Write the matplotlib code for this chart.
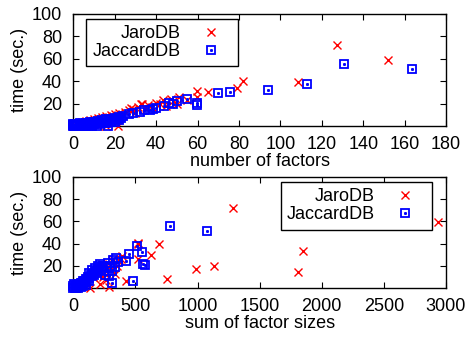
import matplotlib
matplotlib.use("Agg")
import matplotlib.pyplot as plt
from matplotlib.legend_handler import HandlerTuple

plt.rcParams['font.family'] = ['Liberation Sans', 'DejaVu Sans']
plt.rcParams['font.size'] = 13

# top panel: number of factors vs time
jaro_nf_x = [127.3, 151.8, 108.6, 81.8, 79, 65, 59.6, 59.6, 51, 47, 43.5, 40, 36, 33, 31,
             29, 27, 25, 22, 20, 18, 16, 14, 12, 10, 8, 6, 4, 2, 1, 3, 21.7, 16, 12,
             45, 48, 50, 38, 35, 42, 30, 55, 28, 24, 19, 13, 9, 5, 32.5]
jaro_nf_y = [72.5, 59.2, 39.6, 40.2, 33.6, 30.3, 31.2, 26, 25.7, 24.5, 23.6, 21, 19, 20, 17,
             15, 14, 13, 12, 11, 10, 9, 8, 7.5, 6.5, 5.5, 4.5, 3.5, 2, 1, 1.5, 0, 0.3, 0.5,
             18, 22, 20, 17, 15, 19.5, 12, 23, 16, 10, 8, 6, 4, 3, 19.5]
jacc_nf_x = [130.6, 163.5, 112.8, 93.8, 75.7, 70.1, 59.9, 59.9, 54.8, 50, 48, 46, 44, 40,
             38.7, 37, 34, 32.2, 29, 27, 24.2, 22, 20, 18, 16, 14, 12, 10, 8, 6, 5, 4, 3,
             2, 1, 0.5, 0, 2, 4, 6, 8, 10, 12, 14, 16, 18, 20, 22, 11.3, 16.9, 7, 9, 13,
             15, 17, 19, 21, 23, 3, 1, 0, 0, 1, 3, 5, 7, 9]
jacc_nf_y = [55.3, 50.8, 37.2, 32.1, 30.3, 29.7, 19.1, 20.5, 24.2, 22, 19.5, 21, 18, 16.5,
             15.2, 14, 14.5, 13, 11.5, 11, 9.1, 8, 7, 6.5, 6, 5, 4.5, 4, 3.5, 3, 2, 1.5, 1,
             0.5, 0.3, 0, 0, 0, 0, 0.5, 1, 1.5, 2, 2.5, 3, 3.5, 4, 5, 0, 0, 2, 2.5, 3,
             4, 5, 5.5, 6, 7, 2.5, 1.5, 2, 1, 0, 0, 0.5, 0.5, 0]

# bottom panel: sum of factor sizes vs time
jaro_sz_x = [2936, 1287, 1851, 1805, 1136, 986, 757, 688, 623, 518, 518, 427, 290, 524,
             387, 390, 336, 242, 215, 260, 309, 135, 371, 317, 200, 170, 150, 120, 100,
             80, 60, 40, 20, 280, 230, 190, 350, 160, 110, 70, 250, 300, 210]
jaro_sz_y = [59.7, 72.5, 33.4, 14.3, 20, 17.3, 7.8, 40, 29.9, 40.6, 26, 6.3, 0.9, 39.7,
             26.3, 29.3, 12.9, 9.9, 4, 7, 24.8, 0, 25.7, 26.3, 18, 15, 13, 11, 9, 7, 5,
             3, 1.5, 19, 22, 16, 20, 10, 6, 2, 14, 17, 12]
jacc_sz_x = [782, 1077, 511, 551, 451, 425, 559, 577, 484, 309, 363, 336, 296, 242, 215,
             269, 255, 310, 200, 180, 160, 140, 120, 100, 80, 60, 40, 20, 0, 10, 30, 50,
             70, 90, 110, 130, 150, 170, 190, 220, 0, 20, 40, 60, 80, 100, 5, 25, 45, 65,
             85, 105, 125, 230, 280, 320, 340, 200, 175, 290, 150, 130]
jacc_sz_y = [55.5, 51, 38.2, 32.9, 30.8, 24.2, 21.8, 20.7, 6, 4.5, 23.3, 18.8, 20.3, 20,
             21.8, 15.8, 11.4, 15.8, 17, 15, 13, 11.5, 10, 8, 6.5, 5, 3.5, 2, 0, 0.5, 1.5,
             3, 4.5, 6, 7.5, 9, 10.5, 12, 13.5, 16, 2, 0, 0, 1, 2, 3, 3.5, 3, 1.5, 3.5,
             5, 5.5, 6, 19, 23, 25, 27, 20, 18, 11, 16, 14]

fig = plt.figure(figsize=(4.7, 3.39), dpi=100)
ax1 = fig.add_axes([0.156, 0.628, 0.793, 0.331])
ax2 = fig.add_axes([0.156, 0.150, 0.793, 0.328])


def draw(ax, jx, jy, cx, cy, xmax, xstep, xlabel, legend_loc, bbox):
    ax.plot(jx, jy, linestyle='none', marker='x', color='#ff0000', markersize=6,
            markeredgewidth=1.0, clip_on=False, zorder=3)
    sq, = ax.plot(cx, cy, linestyle='none', marker='s', markerfacecolor='none',
                  markeredgecolor='#0000ff', markersize=6, markeredgewidth=1.3,
                  clip_on=False, zorder=4)
    dot, = ax.plot(cx, cy, linestyle='none', marker='s', color='#0000ff',
                   markersize=1.1, clip_on=False, zorder=4)
    xh, = ax.plot([], [], linestyle='none', marker='x', color='#ff0000', markersize=6,
                  markeredgewidth=1.0)
    ax.set_xlim(0, xmax)
    ax.set_ylim(0, 100)
    ax.set_xticks(range(0, xmax + 1, xstep))
    ax.set_yticks([20, 40, 60, 80, 100])
    ax.tick_params(direction='in', top=True, right=True, length=4, width=0.8)
    ax.tick_params(axis='x', pad=7)
    ax.tick_params(axis='y', pad=8)
    for s in ax.spines.values():
        s.set_linewidth(1.0)
    ax.set_xlabel(xlabel, labelpad=0)
    ax.set_ylabel('time (sec.)', labelpad=3)
    # markerfirst=False right-aligns the labels next to the markers
    leg = ax.legend([xh, (sq, dot)], ['JaroDB', 'JaccardDB'], loc=legend_loc,
                    bbox_to_anchor=bbox, markerfirst=False, fancybox=False,
                    framealpha=1, edgecolor='black', borderpad=0.35, labelspacing=0.05,
                    handletextpad=0.5, handlelength=2.3, borderaxespad=0,
                    handler_map={tuple: HandlerTuple(ndivide=1, pad=0)})
    leg.get_frame().set_linewidth(1.0)


draw(ax1, jaro_nf_x, jaro_nf_y, jacc_nf_x, jacc_nf_y, 180, 20, 'number of factors',
     'upper left', (0.035, 0.955))
draw(ax2, jaro_sz_x, jaro_sz_y, jacc_sz_x, jacc_sz_y, 3000, 500, 'sum of factor sizes',
     'upper right', (0.962, 0.955))

fig.savefig('out.png', dpi=100)
